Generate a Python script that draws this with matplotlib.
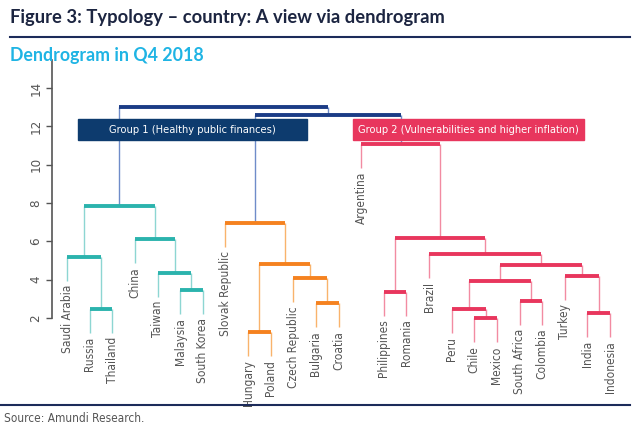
import matplotlib

matplotlib.use("Agg")
import matplotlib.pyplot as plt
from matplotlib import font_manager
from matplotlib.patches import Rectangle

# --------------------------------------------------------------- data

leaves = [
    "Saudi Arabia", "Russia", "Thailand", "China", "Taiwan", "Malaysia",
    "South Korea", "Slovak Republic", "Hungary", "Poland", "Czech Republic",
    "Bulgaria", "Croatia", "Argentina", "Philippines", "Romania", "Brazil",
    "Peru", "Chile", "Mexico", "South Africa", "Colombia", "Turkey", "India",
    "Indonesia",
]

# merges, in order: name, left child, right child, height, cluster
merge_name = ["A", "B", "C", "D", "E", "F",
              "G", "H", "I", "J", "K",
              "O", "V", "T", "U", "R", "W", "S", "Q", "P", "N", "M",
              "X", "Y"]
merge_left = ["Russia", "Saudi Arabia", "Malaysia", "Taiwan", "China", "B",
              "Hungary", "Bulgaria", "Czech Republic", "G", "Slovak Republic",
              "Philippines", "Chile", "Peru", "South Africa", "T", "India",
              "Turkey", "R", "Brazil", "O", "Argentina",
              "K", "F"]
merge_right = ["Thailand", "A", "South Korea", "C", "D", "E",
               "Poland", "Croatia", "H", "I", "J",
               "Romania", "Mexico", "V", "Colombia", "U", "Indonesia",
               "W", "S", "Q", "P", "N",
               "M", "X"]
merge_height = [2.47, 5.20, 3.46, 4.33, 6.10, 7.86,
                1.27, 2.77, 4.07, 4.82, 6.94,
                3.37, 1.98, 2.47, 2.89, 3.91, 2.24, 4.19, 4.77, 5.32, 6.16, 11.06,
                12.59, 13.02]
merge_cluster = ["teal"] * 6 + ["orange"] * 5 + ["pink"] * 11 + ["navy"] * 2

group_labels = ["Group 1 (Healthy public finances)",
                "Group 2 (Vulnerabilities and higher inflation)"]

# --------------------------------------------------------------- style

BAR = {"teal": "#2bb3ad", "orange": "#f5821f", "pink": "#e8365d", "navy": "#1b3c86"}
STEM = {"teal": "#8dd6d2", "orange": "#f9b36c", "pink": "#f28ba2", "navy": "#6f8cc9"}
HANG = 1.25
GREY = "#555555"
COND = font_manager.FontProperties(family="DejaVu Sans", stretch="condensed")

# --------------------------------------------------------------- layout

xpos = {name: i + 1 for i, name in enumerate(leaves)}
ypos = {name: None for name in leaves}

fig = plt.figure(figsize=(6.4, 4.32), dpi=100)
ax = fig.add_axes([52 / 640, 1 - 400 / 432, 578 / 640, 340 / 432])

for name, left, right, h, cl in zip(merge_name, merge_left, merge_right,
                                    merge_height, merge_cluster):
    for child in (left, right):
        x = xpos[child]
        if ypos[child] is None:
            y0 = h - HANG
            ax.text(x, y0 - 0.2, child, rotation=90, ha="center", va="top",
                    color=GREY, fontproperties=COND, size=8.6, clip_on=False)
        else:
            y0 = ypos[child]
        ax.plot([x, x], [y0, h], color=STEM[cl], lw=1.0,
                solid_capstyle="butt", zorder=2, clip_on=False)
    ax.plot([xpos[left], xpos[right]], [h, h], color=BAR[cl], lw=2.8,
            solid_capstyle="butt", zorder=3, clip_on=False)
    xpos[name] = (xpos[left] + xpos[right]) / 2
    ypos[name] = h

# group boxes
ax.add_patch(Rectangle((1.47, 11.29), 10.15, 1.08, color="#0d3b6e", zorder=4))
ax.text(6.55, 11.83, group_labels[0], color="white", fontproperties=COND,
        size=7.9, ha="center", va="center", zorder=5)
ax.add_patch(Rectangle((13.64, 11.29), 10.19, 1.08, color="#e8365d", zorder=4))
ax.text(18.73, 11.83, group_labels[1], color="white", fontproperties=COND,
        size=7.9, ha="center", va="center", zorder=5)

ax.set_xlim(0.336, 25.88)
ax.set_ylim(-2.28, 15.46)
ax.set_yticks(range(2, 15, 2))
ax.set_yticklabels([str(v) for v in range(2, 15, 2)], rotation=90,
                   va="center", fontproperties=COND, size=9.5, color=GREY)
ax.tick_params(axis="y", length=4, width=1, color=GREY, pad=3)
ax.set_xticks([])
for side in ("top", "right", "bottom"):
    ax.spines[side].set_visible(False)
ax.spines["left"].set_bounds(2, 15.46)
ax.spines["left"].set_color(GREY)
ax.spines["left"].set_linewidth(1.2)
ax.patch.set_alpha(0)

# --------------------------------------------------------------- titles

fig.text(10 / 640, 1 - 17 / 432, "Figure 3: Typology \u2013 country: A view via dendrogram",
         fontsize=13.2, fontweight="bold", color="#1c2541", family="Lato",
         va="center", ha="left")
fig.add_artist(plt.Line2D([10 / 640, 630 / 640], [1 - 37 / 432] * 2,
                          color="#1c2b5a", lw=1.5))
fig.text(10 / 640, 1 - 55 / 432, "Dendrogram in Q4 2018",
         fontsize=12.8, fontweight="bold", color="#1fb4e4", family="Lato",
         va="center", ha="left")
fig.add_artist(plt.Line2D([0, 630 / 640], [1 - 405 / 432] * 2,
                          color="#1c2b5a", lw=1.5))
fig.text(4 / 640, 1 - 418 / 432, "Source: Amundi Research.",
         fontproperties=COND, size=8.5, color=GREY, va="center", ha="left")

fig.savefig("out.png", dpi=100)
plt.close(fig)
